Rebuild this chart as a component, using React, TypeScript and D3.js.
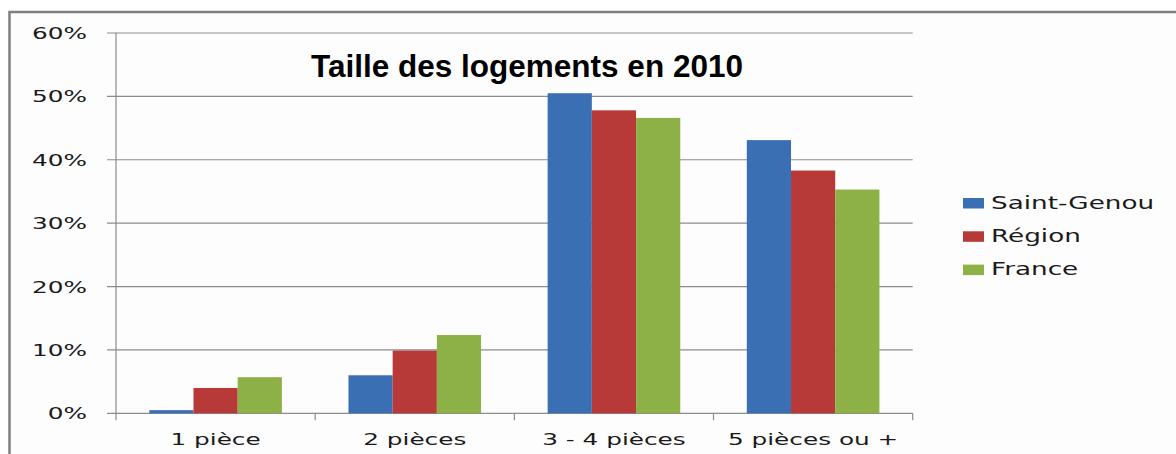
import React from "react";
import * as d3 from "d3";

const categories = ["1 pièce", "2 pièces", "3 - 4 pièces", "5 pièces ou +"];
const series = ["Saint-Genou", "Région", "France"];
const saintGenou = [0.005, 0.06, 0.505, 0.431];
const region = [0.04, 0.099, 0.478, 0.383];
const france = [0.057, 0.1235, 0.466, 0.353];
const yTicks = [0, 0.1, 0.2, 0.3, 0.4, 0.5, 0.6];
const colors = ["#3B6FB3", "#B73A38", "#8DB146"];
const title = "Taille des logements en 2010";

const values = [saintGenou, region, france];

export default function App() {
  const W = 1176, H = 454;
  const left = 116, right = 912.7, top = 33, bottom = 413.3;
  const x0 = d3.scaleBand<string>().domain(categories).range([left, right]).padding(0);
  const x1 = d3.scaleBand<string>().domain(series).range([0, x0.bandwidth()]).paddingInner(0).paddingOuter(0.753);
  const y = d3.scaleLinear().domain([0, 0.6]).range([bottom, top]);
  const fmt = d3.format(".0%");
  const axisFont = "'DejaVu Sans', sans-serif";
  const sx = 1.5;
  const grid = "#8c8c8c";

  return (
    <svg width={W} height={H} style={{ position: "absolute", left: 0, top: 0, background: "#fff" }}>
      <rect x={9.5} y={12} width={W} height={H} fill="#fdfdfd" stroke="#7f7f7f" strokeWidth={2.5} />
      <text x={527} y={76.7} textAnchor="middle" fontFamily="'Liberation Sans', Arial, sans-serif" fontWeight="bold" fontSize={32} textLength={432} lengthAdjust="spacingAndGlyphs" fill="#000">{title}</text>
      {yTicks.map((t) => (
        <g key={t}>
          <line x1={107} x2={right} y1={y(t)} y2={y(t)} stroke={grid} strokeWidth={1.2} />
          <text transform={`translate(87,${y(t) + 6}) scale(${sx},1)`} textAnchor="end" fontFamily={axisFont} fontSize={16.5} fill="#1a1a1a">{fmt(t)}</text>
        </g>
      ))}
      <line x1={left} x2={left} y1={top} y2={bottom + 7} stroke={grid} strokeWidth={1.2} />
      {categories.map((c, i) => (
        <g key={c}>
          <line x1={(x0(c) as number) + x0.bandwidth()} x2={(x0(c) as number) + x0.bandwidth()} y1={bottom} y2={bottom + 7} stroke={grid} strokeWidth={1.2} />
          <text transform={`translate(${(x0(c) as number) + x0.bandwidth() / 2},444.5) scale(${sx},1)`} textAnchor="middle" fontFamily={axisFont} fontSize={16.5} fill="#1a1a1a">{c}</text>
        </g>
      ))}
      {series.map((s, si) => (
        <g key={s}>
          {categories.map((c, ci) => {
            const v = values[si][ci];
            return (
              <rect key={c} x={(x0(c) as number) + (x1(s) as number)} y={y(v)} width={x1.bandwidth()} height={bottom - y(v)} fill={colors[si]} />
            );
          })}
        </g>
      ))}
      {series.map((s, si) => (
        <g key={s} transform={`translate(963,${198 + si * 33.3})`}>
          <rect x={0} y={0} width={21} height={10.5} fill={colors[si]} />
          <text transform={`translate(28,10.5) scale(${sx},1)`} fontFamily={axisFont} fontSize={17.5} fill="#1a1a1a">{s}</text>
        </g>
      ))}
    </svg>
  );
}
